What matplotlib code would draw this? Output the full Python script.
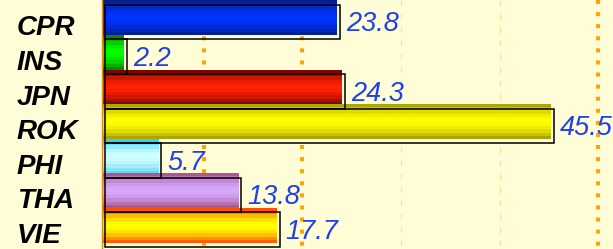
import numpy as np
import matplotlib
matplotlib.use('Agg')
import matplotlib.pyplot as plt
import matplotlib.transforms as mtransforms
from matplotlib.colors import to_rgb

countries = ['CPR', 'INS', 'JPN', 'ROK', 'PHI', 'THA', 'VIE']
values = [23.8, 2.2, 24.3, 45.5, 5.7, 13.8, 17.7]
# (top edge, middle, bottom edge) colours for the striped fill
bar_colors = [
    ('#001c80', '#0033ff', '#001c8c'),
    ('#007a00', '#00ff00', '#007a00'),
    ('#6a0000', '#ff2200', '#700000'),
    ('#9e9800', '#ffff00', '#9e9800'),
    ('#22c8ec', '#d0ffff', '#55d0f0'),
    ('#a04c80', '#d8a8ff', '#a05080'),
    ('#ff3300', '#ffff00', '#ff4400'),
]
dotted_grid = [10, 20, 50]
faint_grid = [30, 40]

bg = '#fffcd8'
y_lo, y_hi = 6.67, -0.52
fig = plt.figure(figsize=(6.13, 2.49), dpi=100, facecolor=bg)
ax = fig.add_axes([102 / 613, 0, 1 - 102 / 613, 1])
ax.set_facecolor(bg)
ax.set_xticks([])
ax.set_yticks([])
for s in ['top', 'right', 'bottom']:
    ax.spines[s].set_visible(False)
ax.spines['left'].set_color('#e08a20')
ax.spines['left'].set_linewidth(1.0)

shift = mtransforms.offset_copy(ax.transData, fig=fig, x=3, y=0, units='dots')
for g in dotted_grid:
    ax.plot([g, g], [y_hi, y_lo], color='#ffa500', lw=2.9, linestyle=(0, (1, 2)),
            dash_capstyle='butt', zorder=1, transform=shift)
for g in faint_grid:
    ax.plot([g, g], [y_hi, y_lo], color='#ffe08a', lw=0.8, linestyle=(0, (5, 7)),
            zorder=1, transform=shift)

nb = 11
prof = np.sin(np.pi * (np.arange(nb) + 0.5) / nb)
for i, (v, (ct, cm, cb)) in enumerate(zip(values, bar_colors)):
    ct, cm, cb = np.array(to_rgb(ct)), np.array(to_rgb(cm)), np.array(to_rgb(cb))
    rows = []
    for k in range(nb):
        edge = ct if k < nb / 2 else cb
        rows.append(edge + (cm - edge) * prof[k])
    img = np.array(rows).reshape(nb, 1, 3)
    ax.imshow(img, extent=(0, v, i + 0.5, i - 0.5), origin='upper',
              aspect='auto', interpolation='nearest', zorder=2)
ax.set_xlim(0, 51.8)
ax.set_ylim(y_lo, y_hi)

# outline "shadow" boxes, offset a few pixels right and down
box_tr = mtransforms.offset_copy(ax.transData, fig=fig, x=3, y=-4, units='dots')
for i, v in enumerate(values):
    ax.add_patch(plt.Rectangle((0, i - 0.5), v, 1.0, fill=False, ec='black',
                               lw=1.1, transform=box_tr, zorder=3))

lab_tr = mtransforms.blended_transform_factory(fig.transFigure, ax.transData)
val_tr = mtransforms.offset_copy(ax.transData, fig=fig, x=9, y=0, units='dots')
for i, (c, v) in enumerate(zip(countries, values)):
    fig.text(17 / 613, i + 0.5, c, transform=lab_tr, ha='left', va='baseline',
             fontsize=20, fontweight='bold', fontstyle='italic',
             family='Liberation Sans', color='black')
    ax.text(v, i + 0.385, f'{v}', transform=val_tr, ha='left', va='baseline',
            fontsize=19.5, fontstyle='italic', family='Liberation Sans',
            color='#2040f0', zorder=4, clip_on=False)

fig.savefig('out.png', dpi=100, facecolor=bg)
